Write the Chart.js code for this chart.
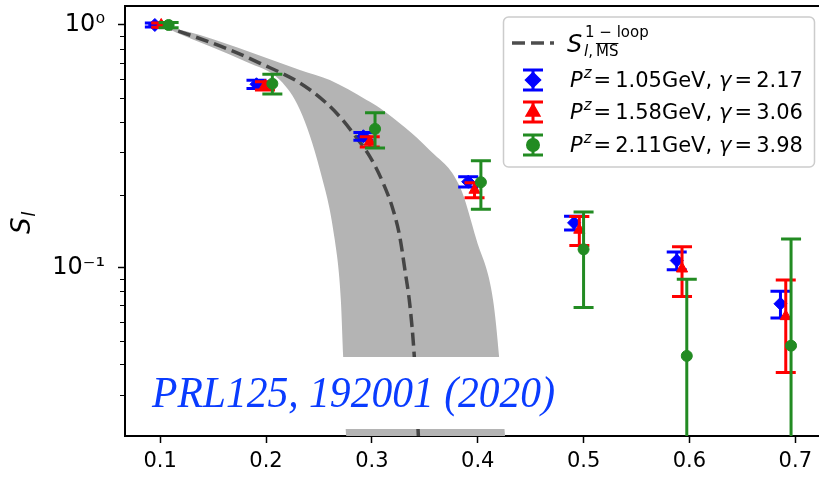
<!DOCTYPE html>
<html>
<head>
<meta charset="utf-8">
<script src="https://cdn.jsdelivr.net/npm/chart.js@4.4.0/dist/chart.umd.min.js"></script>
<style>
  html, body { margin: 0; padding: 0; background: #fff; overflow: hidden; }
</style>
</head>
<body>
<canvas id="slChart" width="819" height="480"></canvas>
<script>
// axis ticks
const xTickValues = [0.1, 0.2, 0.3, 0.4, 0.5, 0.6, 0.7];
const yMajorTicks = [0.1, 1];
const yMajorLabels = ['10⁻¹', '10⁰'];
const yMinorTicks = [0.03, 0.04, 0.05, 0.06, 0.07, 0.08, 0.09, 0.2, 0.3, 0.4, 0.5, 0.6, 0.7, 0.8, 0.9];

// lattice data
const blueZ = [0.095, 0.191, 0.292, 0.391, 0.491, 0.588, 0.686];
const blueS = [1.0, 0.570, 0.348, 0.226, 0.153, 0.107, 0.071];
const blueErr = [0.018, 0.022, 0.013, 0.011, 0.010, 0.009, 0.009];

const redZ = [0.101, 0.199, 0.298, 0.397, 0.496, 0.593, 0.691];
const redS = [1.0, 0.562, 0.330, 0.209, 0.143, 0.099, 0.063];
const redErr = [0.020, 0.022, 0.016, 0.015, 0.0195, 0.023, 0.026];

const greenZ = [0.108, 0.206, 0.303, 0.403, 0.500, 0.5975, 0.696];
const greenS = [1.0, 0.573, 0.373, 0.225, 0.119, 0.0433, 0.0477];
const greenErr = [0.025, 0.054, 0.062, 0.051, 0.0505, 0.0463, 0.0836];

const seriesPz = ['1.05', '1.58', '2.11'];
const seriesGamma = ['2.17', '3.06', '3.98'];

// one-loop curve and its band
const loopZ = [0.100, 0.117, 0.166, 0.194, 0.232, 0.2556, 0.2697, 0.2823, 0.2981, 0.3107, 0.3201, 0.3264, 0.3312, 0.3359, 0.3400, 0.3440];
const loopS = [1.000, 0.945, 0.789, 0.697, 0.577, 0.483, 0.419, 0.358, 0.287, 0.223, 0.173, 0.134, 0.098, 0.0702, 0.0436, 0.0200];

const bandUpZ = [0.1, 0.1376, 0.1848, 0.232, 0.2603, 0.295, 0.3075, 0.3547, 0.3831, 0.3989, 0.4145, 0.4202, 0.4259];
const bandUpS = [1.0, 0.909, 0.774, 0.653, 0.593, 0.491, 0.455, 0.305, 0.216, 0.130, 0.0736, 0.0429, 0.02];
const bandLowZ = [0.1, 0.1156, 0.1817, 0.2131, 0.232, 0.2509, 0.265, 0.2707, 0.2729, 0.2761, 0.4259];
const bandLowS = [1.0, 0.930, 0.704, 0.593, 0.447, 0.253, 0.130, 0.0736, 0.0429, 0.02, 0.02];

const blue = '#0000ff', red = '#ff0000', green = '#228b22';

function pts(xs, ys) {
    return xs.map((x, i) => ({ x: x, y: ys[i] }));
}

const errorBars = {
    id: 'errorBars',
    beforeDatasetDraw(chart, args) {
        const ds = chart.data.datasets[args.index];
        if (!ds.errors) return;
        const { ctx, chartArea: a, scales } = chart;
        ctx.save();
        ctx.beginPath();
        ctx.rect(a.left, a.top, a.right - a.left, a.bottom - a.top);
        ctx.clip();
        ctx.strokeStyle = ds.borderColor;
        ctx.lineWidth = 3;
        ds.data.forEach((p, i) => {
            const e = ds.errors[i];
            const x = scales.x.getPixelForValue(p.x);
            const yTop = scales.y.getPixelForValue(p.y + e);
            const low = p.y - e;
            const yBot = low > 0 ? scales.y.getPixelForValue(low) : a.bottom + 20;
            ctx.beginPath();
            ctx.moveTo(x, yTop); ctx.lineTo(x, yBot);
            ctx.moveTo(x - 10, yTop); ctx.lineTo(x + 10, yTop);
            if (low > 0) { ctx.moveTo(x - 10, yBot); ctx.lineTo(x + 10, yBot); }
            ctx.stroke();
        });
        ctx.restore();
    }
};

function drawPieces(ctx, x, y, pieces) {
    pieces.forEach(p => {
        x += p.gap || 0;
        ctx.font = (p.italic ? 'italic ' : '') + p.size + 'px "DejaVu Sans"';
        ctx.fillText(p.t, x, y + (p.dy || 0));
        x += ctx.measureText(p.t).width;
    });
    return x;
}

const decorations = {
    id: 'decorations',
    afterDatasetsDraw(chart) {
        const { ctx } = chart;
        // reference label on a white box
        ctx.save();
        ctx.fillStyle = '#fff';
        ctx.fillRect(140, 357, 430, 72);
        const label = 'PRL125, 192001 (2020)';
        ctx.font = 'italic 44px "Liberation Serif"';
        const w = ctx.measureText(label).width;
        ctx.translate(152, 407);
        ctx.scale(403 / w, 1);
        ctx.fillStyle = '#0a3cff';
        ctx.fillText(label, 0, 0);
        ctx.restore();
    },
    afterDraw(chart) {
        const { ctx, chartArea: a, scales } = chart;
        ctx.save();
        // top spine
        ctx.strokeStyle = '#000';
        ctx.lineWidth = 2;
        ctx.beginPath();
        ctx.moveTo(a.left - 1, a.top); ctx.lineTo(a.right + 1, a.top);
        ctx.stroke();
        // minor y ticks
        ctx.lineWidth = 1.2;
        ctx.beginPath();
        yMinorTicks.forEach(v => {
            const y = Math.round(scales.y.getPixelForValue(v)) + 0.5;
            ctx.moveTo(a.left - 5, y); ctx.lineTo(a.left, y);
        });
        ctx.stroke();

        // y title S_l
        ctx.save();
        ctx.translate(30, 222);
        ctx.rotate(-Math.PI / 2);
        ctx.fillStyle = '#000';
        ctx.textAlign = 'left';
        drawPieces(ctx, -12, 0, [
            { t: 'S', size: 26, italic: true },
            { t: 'l', size: 17, italic: true, dy: 5, gap: 1 }
        ]);
        ctx.restore();

        // legend
        const bx = 503.5, by = 17, bw = 311, bh = 150;
        ctx.fillStyle = 'rgba(255,255,255,0.85)';
        ctx.strokeStyle = '#cccccc';
        ctx.lineWidth = 1.5;
        ctx.beginPath();
        ctx.roundRect(bx, by, bw, bh, 5);
        ctx.fill();
        ctx.stroke();

        ctx.strokeStyle = '#4d4d4d';
        ctx.lineWidth = 3.5;
        ctx.setLineDash([13, 6]);
        ctx.beginPath();
        ctx.moveTo(512, 43); ctx.lineTo(554, 43);
        ctx.stroke();
        ctx.setLineDash([]);

        ctx.fillStyle = '#000';
        drawPieces(ctx, 567, 52, [{ t: 'S', size: 24, italic: true }]);
        drawPieces(ctx, 585, 37, [{ t: '1 − loop', size: 15 }]);
        const msEnd = drawPieces(ctx, 584, 56, [
            { t: 'l', size: 15, italic: true },
            { t: ',', size: 15 },
            { t: 'MS', size: 15, gap: 3 }
        ]);
        ctx.font = '15px "DejaVu Sans"';
        const msW = ctx.measureText('MS').width;
        ctx.lineWidth = 1;
        ctx.strokeStyle = '#000';
        ctx.beginPath();
        ctx.moveTo(msEnd - msW, 43.5); ctx.lineTo(msEnd, 43.5);
        ctx.stroke();

        const rows = [80, 112, 145];
        const cols = [blue, red, green];
        const styles = ['rectRot', 'triangle', 'circle'];
        const radii = [6.5, 6.5, 5.5];
        rows.forEach((y, i) => {
            const x = 533;
            ctx.strokeStyle = cols[i];
            ctx.fillStyle = cols[i];
            ctx.lineWidth = 3;
            ctx.beginPath();
            ctx.moveTo(x, y - 10); ctx.lineTo(x, y + 10);
            ctx.moveTo(x - 10, y - 10); ctx.lineTo(x + 10, y - 10);
            ctx.moveTo(x - 10, y + 10); ctx.lineTo(x + 10, y + 10);
            ctx.stroke();
            Chart.helpers.drawPoint(ctx, { pointStyle: styles[i], radius: radii[i], rotation: 0, borderWidth: 1 }, x, y);
            ctx.fillStyle = '#000';
            drawPieces(ctx, 570, y + 7, [
                { t: 'P', size: 21, italic: true },
                { t: 'z', size: 15, italic: true, dy: -9, gap: 1 },
                { t: '=', size: 21, gap: 2 },
                { t: seriesPz[i] + 'GeV,', size: 21, gap: 4 },
                { t: 'γ', size: 21, italic: true, gap: 7 },
                { t: '=', size: 21, gap: 3 },
                { t: seriesGamma[i], size: 21, gap: 4 }
            ]);
        });
        ctx.restore();
    }
};

function noPadding(scale) {
    scale.paddingTop = 0;
    scale.paddingBottom = 0;
    scale.paddingLeft = 0;
    scale.paddingRight = 0;
}

const ctx = document.getElementById('slChart').getContext('2d');
const slChart = new Chart(ctx, {
    type: 'line',
    data: {
        datasets: [
            {
                label: 'band upper',
                data: pts(bandUpZ, bandUpS),
                borderWidth: 0,
                pointRadius: 0,
                cubicInterpolationMode: 'monotone',
                backgroundColor: '#b4b4b4',
                fill: '+1',
                order: 10
            },
            {
                label: 'band lower',
                data: pts(bandLowZ, bandLowS),
                borderWidth: 0,
                pointRadius: 0,
                cubicInterpolationMode: 'monotone',
                fill: false,
                order: 10
            },
            {
                label: 'one-loop',
                data: pts(loopZ, loopS),
                borderColor: '#454545',
                borderWidth: 3.5,
                borderDash: [13, 6],
                pointRadius: 0,
                cubicInterpolationMode: 'monotone',
                fill: false,
                order: 9
            },
            {
                label: 'Pz=1.05GeV',
                data: pts(blueZ, blueS),
                errors: blueErr,
                showLine: false,
                pointStyle: 'rectRot',
                pointRadius: 6.5,
                backgroundColor: blue,
                borderColor: blue,
                borderWidth: 1,
                order: 3
            },
            {
                label: 'Pz=1.58GeV',
                data: pts(redZ, redS),
                errors: redErr,
                showLine: false,
                pointStyle: 'triangle',
                pointRadius: 6.5,
                backgroundColor: red,
                borderColor: red,
                borderWidth: 1,
                order: 2
            },
            {
                label: 'Pz=2.11GeV',
                data: pts(greenZ, greenS),
                errors: greenErr,
                showLine: false,
                pointStyle: 'circle',
                pointRadius: 5.5,
                backgroundColor: green,
                borderColor: green,
                borderWidth: 1,
                order: 1
            }
        ]
    },
    options: {
        responsive: false,
        animation: false,
        layout: { autoPadding: false, padding: { top: 6, left: 0, right: 0, bottom: 0 } },
        plugins: {
            legend: { display: false },
            tooltip: { enabled: false }
        },
        scales: {
            x: {
                type: 'linear',
                min: 0.0668,
                max: 0.7224,
                afterBuildTicks: function (scale) {
                    scale.ticks = xTickValues.map(v => ({ value: v }));
                },
                afterFit: function (scale) {
                    scale.height = 44;
                    noPadding(scale);
                },
                grid: { drawOnChartArea: false, tickLength: 7, tickWidth: 1.5, tickColor: '#000' },
                border: { color: '#000', width: 2 },
                ticks: {
                    color: '#000',
                    padding: 6,
                    maxRotation: 0,
                    autoSkip: false,
                    font: { family: 'DejaVu Sans', size: 21 },
                    callback: function (value) {
                        return value.toFixed(1);
                    }
                }
            },
            y: {
                type: 'logarithmic',
                min: 0.02025,
                max: 1.1975,
                bounds: 'data',
                afterBuildTicks: function (scale) {
                    scale.ticks = yMajorTicks.map(v => ({ value: v, major: true }));
                },
                afterFit: function (scale) {
                    scale.width = 125;
                    noPadding(scale);
                },
                grid: { drawOnChartArea: false, tickLength: 7, tickWidth: 1.5, tickColor: '#000' },
                border: { color: '#000', width: 2 },
                ticks: {
                    color: '#000',
                    padding: 13,
                    autoSkip: false,
                    font: { family: 'DejaVu Sans', size: 24 },
                    callback: function (value) {
                        const i = yMajorTicks.indexOf(value);
                        return i >= 0 ? yMajorLabels[i] : '';
                    }
                }
            }
        }
    },
    plugins: [errorBars, decorations]
});
</script>
</body>
</html>
